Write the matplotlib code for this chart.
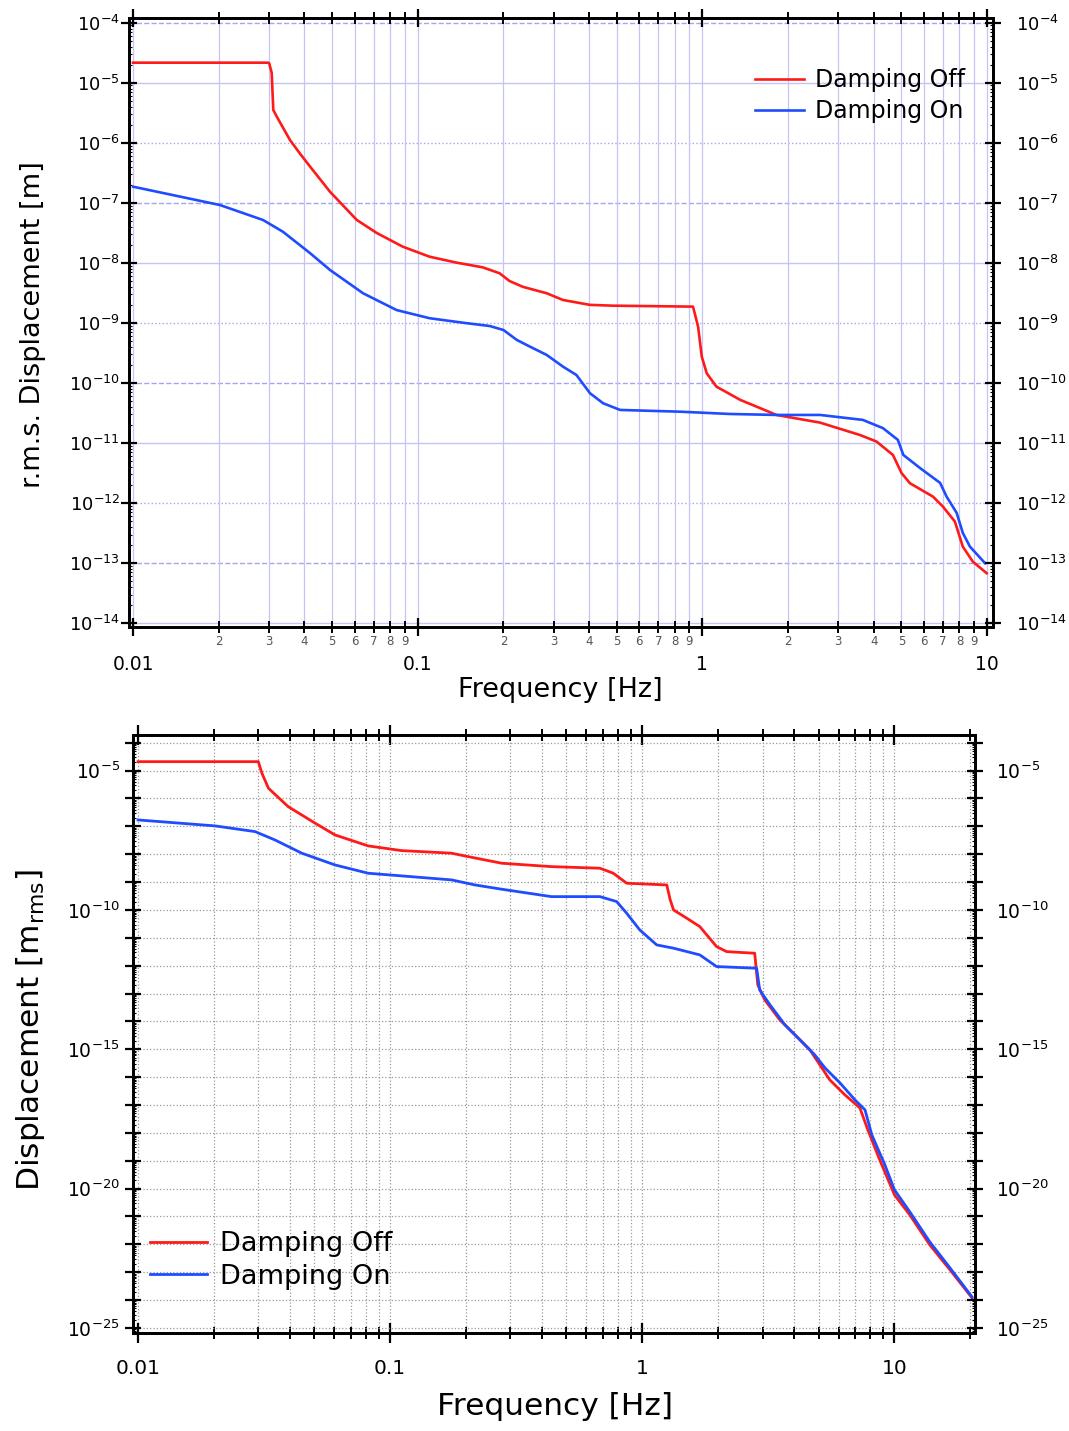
import numpy as np
import matplotlib
matplotlib.use("Agg")
import matplotlib.pyplot as plt
from matplotlib.ticker import FixedLocator, FuncFormatter, NullFormatter

plt.rcParams["font.family"] = ["DejaVu Sans"]
plt.rcParams["mathtext.default"] = "regular"

# ---------- data: top panel (r.m.s. displacement, 0.01-10 Hz) ----------
top_off_f = [0.01, 0.0298, 0.0301, 0.0307, 0.0311, 0.032, 0.0356, 0.0386, 0.0419, 0.0492, 0.0611,
             0.0718, 0.0887, 0.110, 0.137, 0.169, 0.194, 0.21, 0.234, 0.284, 0.324,
             0.403, 0.485, 0.927, 0.966, 0.995, 1.036, 1.12, 1.36, 1.55, 1.82,
             2.59, 3.58, 4.09, 4.67, 5.01, 5.36, 6.46, 7.0, 7.71, 8.22, 8.91, 9.97]
top_off_d = [2.16e-5, 2.16e-5, 2.1e-5, 1.46e-5, 3.52e-6, 2.72e-6, 1.11e-6, 6.6e-7, 4.0e-7, 1.53e-7, 5.19e-8,
             3.15e-8, 1.86e-8, 1.27e-8, 1.01e-8, 8.45e-9, 6.72e-9, 5.0e-9, 4.0e-9, 3.12e-9, 2.41e-9,
             2.0e-9, 1.94e-9, 1.87e-9, 8.67e-10, 2.75e-10, 1.45e-10, 8.7e-11, 5.22e-11, 4.04e-11, 2.94e-11,
             2.19e-11, 1.36e-11, 1.06e-11, 6.34e-12, 3.15e-12, 2.14e-12, 1.28e-12, 8.73e-13, 4.92e-13, 1.88e-13,
             1.06e-13, 6.8e-14]

top_on_f = [0.01, 0.0202, 0.0286, 0.0336, 0.0419, 0.0492, 0.0643, 0.0843, 0.110, 0.144,
            0.179, 0.20, 0.223, 0.248, 0.284, 0.324, 0.361, 0.403, 0.448, 0.514,
            0.834, 1.25, 1.82, 2.59, 3.66, 4.31, 4.86, 5.08, 5.81, 6.84,
            7.21, 7.82, 8.22, 8.71, 9.84]
top_on_d = [1.86e-7, 9.2e-8, 5.19e-8, 3.31e-8, 1.45e-8, 7.63e-9, 3.12e-9, 1.64e-9, 1.2e-9, 1.01e-9,
            8.9e-10, 7.64e-10, 5.21e-10, 4.03e-10, 2.93e-10, 1.87e-10, 1.36e-10, 6.75e-11, 4.6e-11, 3.56e-11,
            3.33e-11, 3.05e-11, 2.94e-11, 2.94e-11, 2.43e-11, 1.77e-11, 1.13e-11, 6.34e-12, 3.85e-12, 2.17e-12,
            1.28e-12, 6.87e-13, 3.18e-13, 1.88e-13, 9.98e-14]

# ---------- data: bottom panel (displacement m_rms, 0.01-20 Hz) ----------
bot_off_f = [0.01, 0.030, 0.031, 0.0329, 0.0394, 0.0504, 0.0604, 0.0818, 0.111, 0.175,
             0.204, 0.277, 0.436, 0.679, 0.767, 0.867, 1.25, 1.29, 1.33, 1.50,
             1.69, 1.97, 2.16, 2.79, 2.87, 3.06, 3.51, 4.03, 4.62, 5.06,
             5.54, 6.36, 7.29, 7.84, 8.74, 10.0, 11.5, 13.8, 16.6, 20.3]
bot_off_d = [2.1e-5, 2.1e-5, 8.07e-6, 2.34e-6, 5.1e-7, 1.3e-7, 4.93e-8, 1.99e-8, 1.35e-8, 1.09e-8,
             8.2e-9, 4.75e-9, 3.59e-9, 3.15e-9, 2.08e-9, 9.1e-10, 7.9e-10, 2.3e-10, 1.0e-10, 5.06e-11,
             2.53e-11, 4.84e-12, 3.2e-12, 2.8e-12, 2.05e-13, 5.9e-14, 1.13e-14, 3.3e-15, 9.5e-16, 2.75e-16,
             7.97e-17, 2.31e-17, 7.9e-18, 1.28e-18, 1.07e-19, 5.97e-21, 1.14e-21, 9.6e-23, 1.22e-23, 1.2e-24]

bot_on_f = [0.01, 0.0202, 0.0291, 0.0349, 0.0446, 0.0604, 0.0818, 0.111, 0.175, 0.217,
            0.277, 0.436, 0.679, 0.791, 0.867, 0.977, 1.14, 1.33, 1.69, 1.97,
            2.84, 2.92, 3.21, 3.68, 4.22, 4.83, 5.30, 6.08, 6.97, 7.64,
            8.13, 9.16, 10.0, 11.5, 13.8, 16.6, 20.3]
bot_on_d = [1.7e-7, 1.04e-7, 6.5e-8, 3.26e-8, 1.09e-8, 4.13e-9, 2.08e-9, 1.67e-9, 1.2e-9, 7.9e-10,
            5.55e-10, 3.01e-10, 3.01e-10, 2.0e-10, 7.6e-11, 1.92e-11, 5.57e-12, 4.25e-12, 2.44e-12, 9.3e-13,
            8.1e-13, 1.35e-13, 3.9e-14, 7.5e-15, 2.17e-15, 6.3e-16, 2.15e-16, 6.2e-17, 1.53e-17, 6.7e-18,
            8.5e-19, 7.1e-20, 9.0e-21, 1.47e-21, 1.23e-22, 1.43e-23, 1.3e-24]

labels = ["Damping Off", "Damping On"]
RED = "#ff1a1a"
BLUE = "#1f4cff"


def exp_fmt(v, pos):
    k = int(round(np.log10(v)))
    return r"$\mathregular{10^{%d}}$" % k


def exp_fmt5(v, pos):
    k = int(round(np.log10(v)))
    if k % 5:
        return ""
    return r"$\mathregular{10^{%d}}$" % k


def digit_fmt(v, pos):
    m = v / 10 ** np.floor(np.log10(v) + 1e-9)
    return "%d" % round(m)


def dec_fmt(v, pos):
    return "%g" % v


def setup_y(ax, ylim, majors, minors, fmt, size, pad, side):
    ax.set_yscale("log")
    ax.set_ylim(*ylim)
    ax.yaxis.set_major_locator(FixedLocator(majors))
    ax.yaxis.set_minor_locator(FixedLocator(minors))
    ax.yaxis.set_major_formatter(FuncFormatter(fmt))
    ax.yaxis.set_minor_formatter(NullFormatter())
    left = side == "left"
    ax.tick_params(axis="y", which="major", direction="inout", length=11, width=1.6,
                   left=left, right=not left, labelleft=left, labelright=not left,
                   labelsize=size, pad=pad)
    ax.tick_params(axis="y", which="minor", direction="in", length=2.5, width=0.8,
                   left=left, right=not left)


fig = plt.figure(figsize=(10.69, 14.31), dpi=100)

# ================= top panel =================
ax1 = fig.add_axes([0.1207, 0.5621, 0.8079, 0.4251])
ax1.set_xscale("log")
ax1.plot(top_off_f, top_off_d, color=RED, lw=1.9, label=labels[0])
ax1.plot(top_on_f, top_on_d, color=BLUE, lw=1.9, label=labels[1])
ax1.set_xlim(10 ** -2.014, 10 ** 1.0197)

xmaj = [0.01, 0.1, 1, 10]
xmin = [m * 10.0 ** e for e in (-2, -1, 0) for m in range(2, 10)]
ax1.xaxis.set_major_locator(FixedLocator(xmaj))
ax1.xaxis.set_minor_locator(FixedLocator(xmin))
ax1.xaxis.set_major_formatter(FuncFormatter(dec_fmt))
ax1.xaxis.set_minor_formatter(FuncFormatter(digit_fmt))

ylim1 = (10 ** -14.057, 10 ** -3.927)
ymaj1 = [10.0 ** k for k in range(-14, -3)]
ymin1 = [m * 10.0 ** k for k in range(-14, -4) for m in range(2, 10)]
setup_y(ax1, ylim1, ymaj1, ymin1, exp_fmt, 13, 1, "left")
ax1r = ax1.twinx()
setup_y(ax1r, ylim1, ymaj1, ymin1, exp_fmt, 13, 11, "right")

ax1.grid(True, which="both", axis="x", color="#c4c4f6", lw=0.9, ls="-")
grid_styles = ["-", ":", "--"]
for k in range(-14, -3):
    st = grid_styles[(-5 - k) % 3]
    ax1.axhline(10.0 ** k, color="#c4c4f6" if st == "-" else "#a4a4f2", lw=1.0, ls=st, zorder=0.5)
ax1.set_axisbelow(True)

ax1.tick_params(axis="x", which="major", direction="inout", length=13, width=1.6,
                top=True, bottom=True, labelsize=13.5, pad=14)
ax1.tick_params(axis="x", which="minor", direction="inout", length=8, width=1.4,
                top=True, bottom=True, labelsize=8.5, labelcolor="#555555", pad=2)
for a in (ax1, ax1r):
    for sp in a.spines.values():
        sp.set_linewidth(2.0)

ax1.legend(loc="upper right", bbox_to_anchor=(0.968, 0.918), frameon=False, fontsize=17,
           handlelength=2.1, handletextpad=0.45, labelspacing=0.3, borderpad=0, borderaxespad=0)

fig.text(0.5239, 0.5178, "Frequency [Hz]", fontsize=19.5, ha="center", va="center")
fig.text(0.0309, 0.7729, "r.m.s. Displacement [m]", fontsize=19.5, ha="center", va="center",
         rotation=90)

# ================= bottom panel =================
ax2 = fig.add_axes([0.1244, 0.0685, 0.7876, 0.4179])
ax2.set_xscale("log")
ax2.plot(bot_off_f, bot_off_d, color=RED, lw=2.0, label=labels[0])
ax2.plot(bot_on_f, bot_on_d, color=BLUE, lw=2.0, label=labels[1])
ax2.set_xlim(10 ** -2.02, 10 ** 1.319)

xmin2 = [m * 10.0 ** e for e in (-2, -1, 0, 1) for m in range(2, 10) if m * 10.0 ** e < 21]
ax2.xaxis.set_major_locator(FixedLocator(xmaj))
ax2.xaxis.set_minor_locator(FixedLocator(xmin2))
ax2.xaxis.set_major_formatter(FuncFormatter(dec_fmt))
ax2.xaxis.set_minor_formatter(NullFormatter())

ylim2 = (10 ** -25.18, 10 ** -3.72)
ymaj2 = [10.0 ** k for k in range(-25, -3)]
ymin2 = [m * 10.0 ** k for k in range(-26, -3) for m in range(2, 10)]
setup_y(ax2, ylim2, ymaj2, ymin2, exp_fmt5, 13.5, 4, "left")
ax2r = ax2.twinx()
setup_y(ax2r, ylim2, ymaj2, ymin2, exp_fmt5, 13.5, 10, "right")

ax2.grid(True, which="both", axis="x", color="#9a9a9a", lw=0.9, ls=":")
ax2.grid(True, which="major", axis="y", color="#9a9a9a", lw=0.9, ls=":")
ax2.set_axisbelow(True)

ax2.tick_params(axis="x", which="major", direction="inout", length=14, width=1.6,
                top=True, bottom=True, labelsize=14.5, pad=12)
ax2.tick_params(axis="x", which="minor", direction="inout", length=9, width=1.4,
                top=True, bottom=True)
for a in (ax2, ax2r):
    for sp in a.spines.values():
        sp.set_linewidth(2.0)

ax2.legend(loc="lower left", bbox_to_anchor=(0.02, 0.072), frameon=False, fontsize=19.5,
           handlelength=2.1, handletextpad=0.48, labelspacing=0.25, borderpad=0, borderaxespad=0)

fig.text(0.5192, 0.0168, "Frequency [Hz]", fontsize=22.5, ha="center", va="center")
fig.text(0.0281, 0.2802, r"Displacement [m$_{rms}$]", fontsize=22.5, ha="center", va="center",
         rotation=90)

fig.savefig("out.png", dpi=100)
